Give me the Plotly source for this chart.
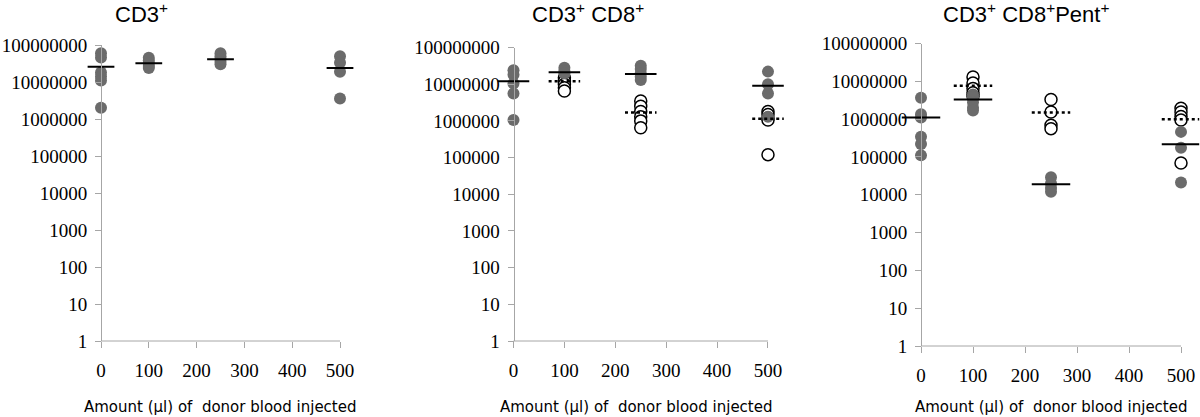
import plotly.graph_objects as go

# ---------------- data ----------------
doses = [0, 100, 250, 500]
tick_x = [0, 100, 200, 300, 400, 500]
tick_y = [1, 10, 100, 1000, 10000, 100000, 1000000, 10000000, 100000000]
tick_y_labels = ["1", "10", "100", "1000", "10000", "100000", "1000000", "10000000", "100000000"]

panel_titles = ["CD3<sup>+</sup>", "CD3<sup>+</sup> CD8<sup>+</sup>", "CD3<sup>+</sup> CD8<sup>+</sup>Pent<sup>+</sup>"]
x_title = "Amount (µl) of \u00a0donor blood injected"

# Panel 1: CD3+
cd3_filled = [
    [6.0e7, 4.6e7, 1.8e7, 1.4e7, 1.1e7, 2.0e6],
    [4.5e7, 3.8e7, 3.2e7, 2.7e7, 2.4e7],
    [6.0e7, 5.0e7, 4.2e7, 3.5e7, 3.0e7],
    [5.0e7, 3.3e7, 1.9e7, 3.6e6],
]
cd3_filled_mean = [2.6e7, 3.2e7, 4.1e7, 2.4e7]

# Panel 2: CD3+ CD8+
cd8_filled = [
    [2.4e7, 1.8e7, 1.05e7, 5.6e6, 1.05e6],
    [2.8e7, 2.3e7, 2.0e7],
    [3.2e7, 2.6e7, 2.0e7, 1.6e7, 1.3e7],
    [2.2e7, 1.0e7, 5.6e6, 1.3e6],
]
cd8_filled_mean = [1.2e7, 2.1e7, 1.9e7, 9.0e6]
cd8_open = [
    [],
    [1.5e7, 1.2e7, 1.0e7, 8.0e6, 6.5e6],
    [3.5e6, 2.5e6, 1.8e6, 1.3e6, 1.0e6, 6.5e5],
    [1.8e6, 1.5e6, 1.2e6, 1.05e6, 1.2e5],
]
cd8_open_mean = [None, 1.2e7, 1.7e6, 1.15e6]

# Panel 3: CD3+ CD8+ Pent+
pent_filled = [
    [3.7e6, 1.35e6, 1.1e6, 3.4e5, 2.2e5, 1.1e5],
    [4.5e6, 3.8e6, 2.8e6, 2.0e6, 1.7e6],
    [2.9e4, 2.0e4, 1.5e4, 1.2e4],
    [4.6e5, 1.75e5, 2.1e4],
]
pent_filled_mean = [1.1e6, 3.3e6, 1.9e4, 2.15e5]
pent_open = [
    [],
    [1.3e7, 9.0e6, 6.5e6, 5.0e6, 4.0e6],
    [3.3e6, 1.55e6, 6.9e5, 5.6e5],
    [1.95e6, 1.55e6, 1.17e6, 9.5e5, 6.9e4],
]
pent_open_mean = [None, 7.6e6, 1.5e6, 1.0e6]

panels = [
    (cd3_filled, cd3_filled_mean, None, None),
    (cd8_filled, cd8_filled_mean, cd8_open, cd8_open_mean),
    (pent_filled, pent_filled_mean, pent_open, pent_open_mean),
]

# ---------------- layout geometry (pixels) ----------------
W, H = 1200, 417
geom = [  # x-pixel of 0, x-pixel of 500, y-pixel of 1e8, y-pixel of 1
    (101, 340, 45, 341),
    (513.5, 768, 47.5, 341),
    (921, 1181, 43.5, 346),
]
title_x = [141, 588, 1026]
xtitle_dx = [0, -4, 0]
XR = [-45, 535]
HALF = [28, 31, 37]

GRAY_DOT = "#6b6b6b"
AXIS = "#a6a6a6"
TICKFONT = dict(family="Liberation Serif", size=19, color="black")

fig = go.Figure()
layout = dict(
    template="none",
    width=W, height=H, margin=dict(l=0, r=0, t=0, b=0, pad=0), autosize=False,
    paper_bgcolor="white", plot_bgcolor="white", showlegend=False,
    annotations=[], shapes=[],
)

for i, (filled, fmean, opened, omean) in enumerate(panels):
    n = "" if i == 0 else str(i + 1)
    xa, ya = "x" + n, "y" + n
    p0, p5, ptop, pbot = geom[i]
    scale = (p5 - p0) / 500.0
    left = p0 + XR[0] * scale
    right = p0 + XR[1] * scale
    layout["xaxis" + n] = dict(
        domain=[left / W, right / W], range=XR, anchor=ya, automargin=False,
        tickvals=tick_x, ticktext=[str(v) for v in tick_x],
        showline=False, showgrid=False, zeroline=False,
        ticks="outside", ticklen=6, tickcolor=AXIS, tickwidth=1,
        tickfont=TICKFONT, ticklabelstandoff=6,
    )
    layout["yaxis" + n] = dict(
        domain=[1 - pbot / H, 1 - ptop / H], type="log", range=[0, 8],
        anchor="free", position=p0 / W, automargin=False,
        tickvals=tick_y, ticktext=tick_y_labels,
        showline=True, linecolor=AXIS, linewidth=1,
        showgrid=False, zeroline=False,
        ticks="outside", ticklen=6, tickcolor=AXIS, tickwidth=1,
        tickfont=TICKFONT, ticklabelstandoff=4,
    )
    # x axis line from 0 to 500
    layout["shapes"].append(dict(
        type="line", xref=xa, yref=ya + " domain", x0=0, x1=500, y0=0, y1=0,
        line=dict(color=AXIS, width=1), layer="below",
    ))
    # title
    layout["annotations"].append(dict(
        text=panel_titles[i], xref="paper", yref="paper",
        x=title_x[i] / W, y=1 - 13 / H, xanchor="center", yanchor="middle",
        showarrow=False, font=dict(family="Liberation Sans", size=22, color="black"),
    ))
    layout["annotations"].append(dict(
        text=x_title, xref="paper", yref="paper",
        x=(p0 + 250 * scale + xtitle_dx[i]) / W, y=1 - 407 / H, xanchor="center", yanchor="middle",
        showarrow=False, font=dict(family="DejaVu Sans", size=15, color="black"),
    ))

    # open circles
    if opened is not None:
        xs, ys = [], []
        for d, vals in zip(doses, opened):
            xs += [d] * len(vals)
            ys += vals
        fig.add_trace(go.Scatter(
            x=xs, y=ys, xaxis=xa, yaxis=ya, mode="markers", cliponaxis=False,
            marker=dict(size=12, color="white", line=dict(color="black", width=1.5)),
        ))
    # filled circles
    xs, ys = [], []
    for d, vals in zip(doses, filled):
        xs += [d] * len(vals)
        ys += vals
    fig.add_trace(go.Scatter(
        x=xs, y=ys, xaxis=xa, yaxis=ya, mode="markers", cliponaxis=False,
        marker=dict(size=12, color=GRAY_DOT, line=dict(width=0)),
    ))
    # mean lines
    for d, m in zip(doses, fmean):
        fig.add_trace(go.Scatter(
            x=[d - HALF[i], d + HALF[i]], y=[m, m], xaxis=xa, yaxis=ya,
            mode="lines", line=dict(color="black", width=2),
        ))
    if omean is not None:
        for d, m in zip(doses, omean):
            if m is None:
                continue
            fig.add_trace(go.Scatter(
                x=[d - HALF[i], d + HALF[i]], y=[m, m], xaxis=xa, yaxis=ya,
                mode="lines", line=dict(color="black", width=2.5, dash="dot"),
            ))

fig.update_layout(**layout)
fig.write_html("out.html", config={"displayModeBar": False},
               post_script="document.body.style.margin='0';")
